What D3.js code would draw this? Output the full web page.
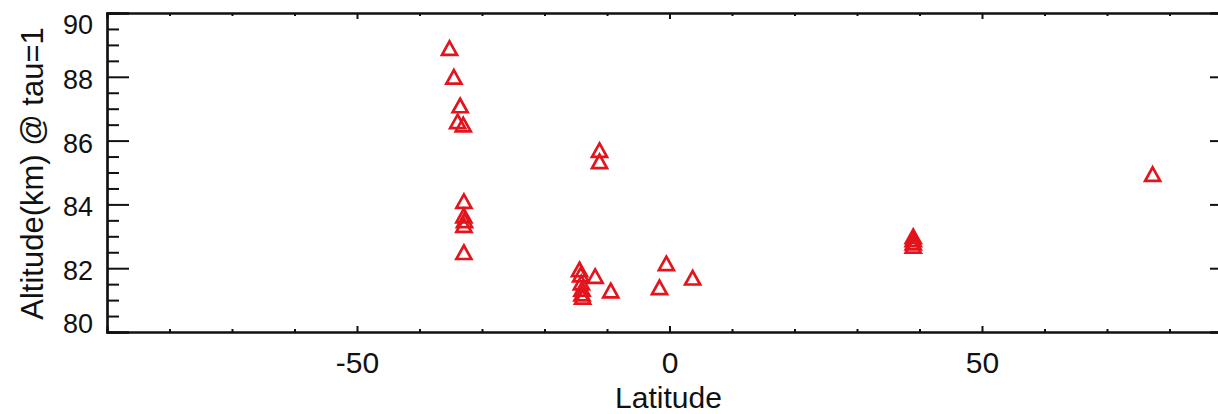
<!DOCTYPE html>
<html>
<head>
<meta charset="utf-8">
<script src="https://cdn.jsdelivr.net/npm/d3@7/dist/d3.min.js"></script>
<style>
  html, body { margin: 0; padding: 0; background: #fff; }
  svg { display: block; font-family: "Liberation Sans", Arial, Helvetica, sans-serif; }
</style>
</head>
<body>
<svg id="chart" width="1218" height="414"></svg>
<script>
// Cloud-top altitude (tau = 1) against latitude
const latitude = [-35.2, -34.5, -33.5, -33.9, -33.0, -32.9, -32.9, -32.8, -32.9, -32.9,
                  -11.2, -11.2, -14.4, -14.2, -14.1, -14.0, -14.0, -13.9, -11.9, -9.4,
                  -0.5, -1.6, 3.7, 39.0, 39.0, 39.0, 39.0, 77.3];
const altitude = [88.9, 88.0, 87.1, 86.6, 86.5, 84.1, 83.65, 83.5, 83.35, 82.5,
                  85.7, 85.35, 81.96, 81.8, 81.55, 81.35, 81.2, 81.1, 81.75, 81.3,
                  82.15, 81.4, 81.7, 83.0, 82.9, 82.8, 82.7, 84.95];

const xDomain = [-90, 90];
const yDomain = [80, 90];
const xMajorTicks = [-50, 0, 50];
const xMinorTicks = [-80, -70, -60, -40, -30, -20, -10, 10, 20, 30, 40, 60, 70, 80];
const yMajorTicks = [80, 82, 84, 86, 88, 90];
const yMinorTicks = d3.range(80.5, 90, 0.5).filter(v => v % 2 !== 0);

const xTitle = "Latitude";
const yTitle = "Altitude(km) @ tau=1";

const plot = { left: 107, right: 1232, top: 13, bottom: 332 };
const svg = d3.select("#chart");

const x = d3.scaleLinear().domain(xDomain).range([plot.left, plot.right]);
const y = d3.scaleLinear().domain(yDomain).range([plot.bottom, plot.top]);

// plain hyphen-minus labels
const plainFmt = d => String(d);

const axisStyle = g => {
  g.select(".domain").attr("stroke", "#111").attr("stroke-width", 2.2);
  g.selectAll(".tick line").attr("stroke", "#111").attr("stroke-width", 2);
};

// Minor ticks first (no labels), then majors with labels
svg.append("g").attr("transform", `translate(0,${plot.bottom})`)
  .call(d3.axisBottom(x).tickValues(xMinorTicks).tickSize(-3).tickFormat(""))
  .call(axisStyle);
svg.append("g").attr("transform", `translate(0,${plot.top})`)
  .call(d3.axisTop(x).tickValues(xMinorTicks).tickSize(-3).tickFormat(""))
  .call(axisStyle);
svg.append("g").attr("transform", `translate(${plot.left},0)`)
  .call(d3.axisLeft(y).tickValues(yMinorTicks).tickSize(-12).tickFormat(""))
  .call(axisStyle);
svg.append("g").attr("transform", `translate(${plot.right},0)`)
  .call(d3.axisRight(y).tickValues(yMinorTicks).tickSize(-12).tickFormat(""))
  .call(axisStyle);

const xb = svg.append("g").attr("transform", `translate(0,${plot.bottom})`)
  .call(d3.axisBottom(x).tickValues(xMajorTicks).tickSize(-6).tickPadding(20).tickFormat(plainFmt))
  .call(axisStyle);
xb.selectAll(".tick text").attr("font-size", 30).attr("fill", "#111")
  .attr("font-family", "Liberation Sans, Arial, sans-serif");

svg.append("g").attr("transform", `translate(0,${plot.top})`)
  .call(d3.axisTop(x).tickValues(xMajorTicks).tickSize(-6).tickFormat(""))
  .call(axisStyle);

const yl = svg.append("g").attr("transform", `translate(${plot.left},0)`)
  .call(d3.axisLeft(y).tickValues(yMajorTicks).tickSize(-22).tickPadding(14).tickFormat(plainFmt))
  .call(axisStyle);
// keep the end labels inside the frame height
yl.selectAll(".tick text")
  .attr("font-size", 27).attr("fill", "#111")
  .attr("font-family", "Liberation Sans, Arial, sans-serif")
  .attr("dy", "0.35em")
  .attr("y", d => {
    const py = y(d) + 2;
    const clamped = Math.max(plot.top + 11, Math.min(plot.bottom - 9, py));
    return clamped - y(d);
  });

svg.append("g").attr("transform", `translate(${plot.right},0)`)
  .call(d3.axisRight(y).tickValues(yMajorTicks).tickSize(-22).tickFormat(""))
  .call(axisStyle);

// Axis titles
svg.append("text")
  .attr("x", (plot.left + 1232) / 2 - 1).attr("y", 408)
  .attr("text-anchor", "middle").attr("font-size", 30).attr("fill", "#111")
  .text(xTitle);

svg.append("text")
  .attr("transform", `translate(43,${(plot.top + plot.bottom) / 2 + 1}) rotate(-90)`)
  .attr("text-anchor", "middle").attr("font-size", 31).attr("fill", "#111")
  .text(yTitle);

// Open triangle markers
const tw = 15, th = 13.5;
const tri = `M0,${-th / 2}L${tw / 2},${th / 2}L${-tw / 2},${th / 2}Z`;
svg.append("g")
  .selectAll("path")
  .data(latitude.map((d, i) => [d, altitude[i]]))
  .join("path")
  .attr("d", tri)
  .attr("transform", d => `translate(${x(d[0])},${y(d[1])})`)
  .attr("fill", "none")
  .attr("stroke", "#e3141c")
  .attr("stroke-width", 2.7)
  .attr("stroke-linejoin", "miter");
</script>
</body>
</html>
